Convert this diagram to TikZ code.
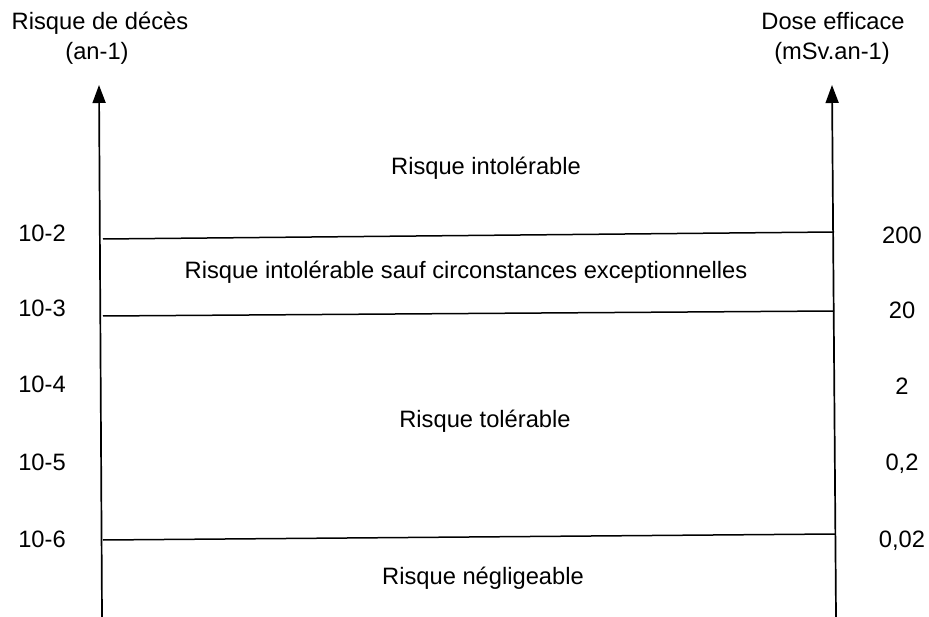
\documentclass[tikz,border=0pt]{standalone}
\usepackage{fontspec}
\setmainfont{Liberation Sans}
\usetikzlibrary{arrows.meta}
\newcommand{\lblfont}{\fontsize{23.7pt}{28pt}\selectfont}
\begin{document}
\begin{tikzpicture}[x=1pt,y=-1pt,
  lbl/.style={font=\lblfont, inner sep=0pt, anchor=base},
  axis/.style={line width=1.7pt, -{Triangle[length=18pt,width=13pt]}},
  level/.style={line width=1.5pt}]
\useasboundingbox (0,0) rectangle (929,617);
% axes
\coordinate (lb) at (102,617);
\coordinate (lt) at (99,85);
\coordinate (rb) at (836,617);
\coordinate (rt) at (832,85);
\draw[axis] (lb) -- (lt);
\draw[axis] (rb) -- (rt);
% axis titles
\node[lbl] (lt1) at (100,30) {Risque de décès};
\node[lbl] (lt2) at (97,60) {(an-1)};
\node[lbl] (rt1) at (833,30) {Dose efficace};
\node[lbl] (rt2) at (832,60) {(mSv.an-1)};
% level lines
\coordinate (a1) at (103,239); \coordinate (b1) at (834,232);
\coordinate (a2) at (103,316); \coordinate (b2) at (834,311);
\coordinate (a3) at (103,540); \coordinate (b3) at (835,534);
\draw[level] (a1) -- (b1);
\draw[level] (a2) -- (b2);
\draw[level] (a3) -- (b3);
% left scale
\node[lbl] (l2) at (42,242) {10-2};
\node[lbl] (l3) at (42,317) {10-3};
\node[lbl] (l4) at (42,393) {10-4};
\node[lbl] (l5) at (42,470) {10-5};
\node[lbl] (l6) at (42,547) {10-6};
% right scale
\node[lbl] (r2) at (902,244) {200};
\node[lbl] (r3) at (902,319) {20};
\node[lbl] (r4) at (902,395) {2};
\node[lbl] (r5) at (902,470) {0,2};
\node[lbl] (r6) at (902,547) {0,02};
% zone labels
\node[lbl] (z1) at (486,175) {Risque intolérable};
\node[lbl] (z2) at (466,279) {Risque intolérable sauf circonstances exceptionnelles};
\node[lbl] (z3) at (485,428) {Risque tolérable};
\node[lbl] (z4) at (483,584) {Risque négligeable};
\end{tikzpicture}
\end{document}
